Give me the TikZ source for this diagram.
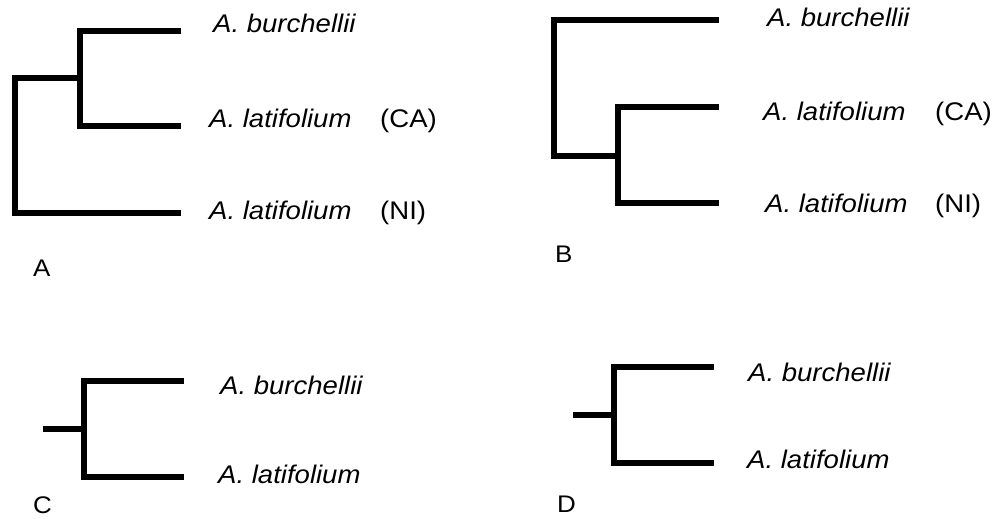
\documentclass[tikz,border=0pt]{standalone}
\usepackage{fontspec}
\setmainfont{Liberation Sans}
\newfontfamily\labfont[FakeStretch=1.08]{Liberation Sans}
\begin{document}
\begin{tikzpicture}[x=1pt,y=-1pt,
  branch/.style={line width=6pt,line cap=butt,line join=miter},
  taxon/.style={anchor=base west,inner sep=0pt,font=\labfont\fontsize{25.5}{28}\selectfont\itshape},
  tag/.style={anchor=base west,inner sep=0pt,font=\labfont\fontsize{25.5}{28}\selectfont},
  panel/.style={anchor=base west,inner sep=0pt,font=\labfont\fontsize{24}{28}\selectfont}]
\useasboundingbox (0,0) rectangle (996,519);
% ---------- Panel A ----------
\coordinate (a1) at (181,31);
\coordinate (a2) at (181,126);
\coordinate (a3) at (181,212.5);
\coordinate (ai) at (80,78.5);
\coordinate (ar) at (15,78.5);
\draw[branch] (a1) -- (a1 -| ai) -- (a2 -| ai) -- (a2);
\draw[branch] (ai) -- (ar) -- (a3 -| ar) -- (a3);
\node[taxon] (ta1) at (213,33) {A. burchellii};
\node[taxon] (ta2) at (209,127.5) {A. latifolium};
\node[tag] (ga2) at (380,127.5) {(CA)};
\node[taxon] (ta3) at (209,219.5) {A. latifolium};
\node[tag] (ga3) at (380,219.5) {(NI)};
\node[panel] (pa) at (33,276) {A};
% ---------- Panel B ----------
\coordinate (b1) at (719,20.5);
\coordinate (b2) at (719,107);
\coordinate (b3) at (719,203);
\coordinate (bi) at (618,155.5);
\coordinate (br) at (553.5,155.5);
\draw[branch] (b2) -- (b2 -| bi) -- (b3 -| bi) -- (b3);
\draw[branch] (bi) -- (br) -- (b1 -| br) -- (b1);
\node[taxon] (tb1) at (767,27) {A. burchellii};
\node[taxon] (tb2) at (763,120) {A. latifolium};
\node[tag] (gb2) at (935,120) {(CA)};
\node[taxon] (tb3) at (765,212) {A. latifolium};
\node[tag] (gb3) at (935,212) {(NI)};
\node[panel] (pb) at (555,262) {B};
% ---------- Panel C ----------
\coordinate (c1) at (184,381);
\coordinate (c2) at (184,477);
\coordinate (ci) at (84,429);
\coordinate (cr) at (43,429);
\draw[branch] (c1) -- (c1 -| ci) -- (c2 -| ci) -- (c2);
\draw[branch] (cr) -- (ci);
\node[taxon] (tc1) at (220,394) {A. burchellii};
\node[taxon] (tc2) at (218,483) {A. latifolium};
\node[panel] (pc) at (33,513.5) {C};
% ---------- Panel D ----------
\coordinate (d1) at (714,367);
\coordinate (d2) at (714,463);
\coordinate (di) at (613.5,414.5);
\coordinate (dr) at (573,414.5);
\draw[branch] (d1) -- (d1 -| di) -- (d2 -| di) -- (d2);
\draw[branch] (dr) -- (di);
\node[taxon] (td1) at (748,381) {A. burchellii};
\node[taxon] (td2) at (747,468) {A. latifolium};
\node[panel] (pd) at (557,512) {D};
\end{tikzpicture}
\end{document}
